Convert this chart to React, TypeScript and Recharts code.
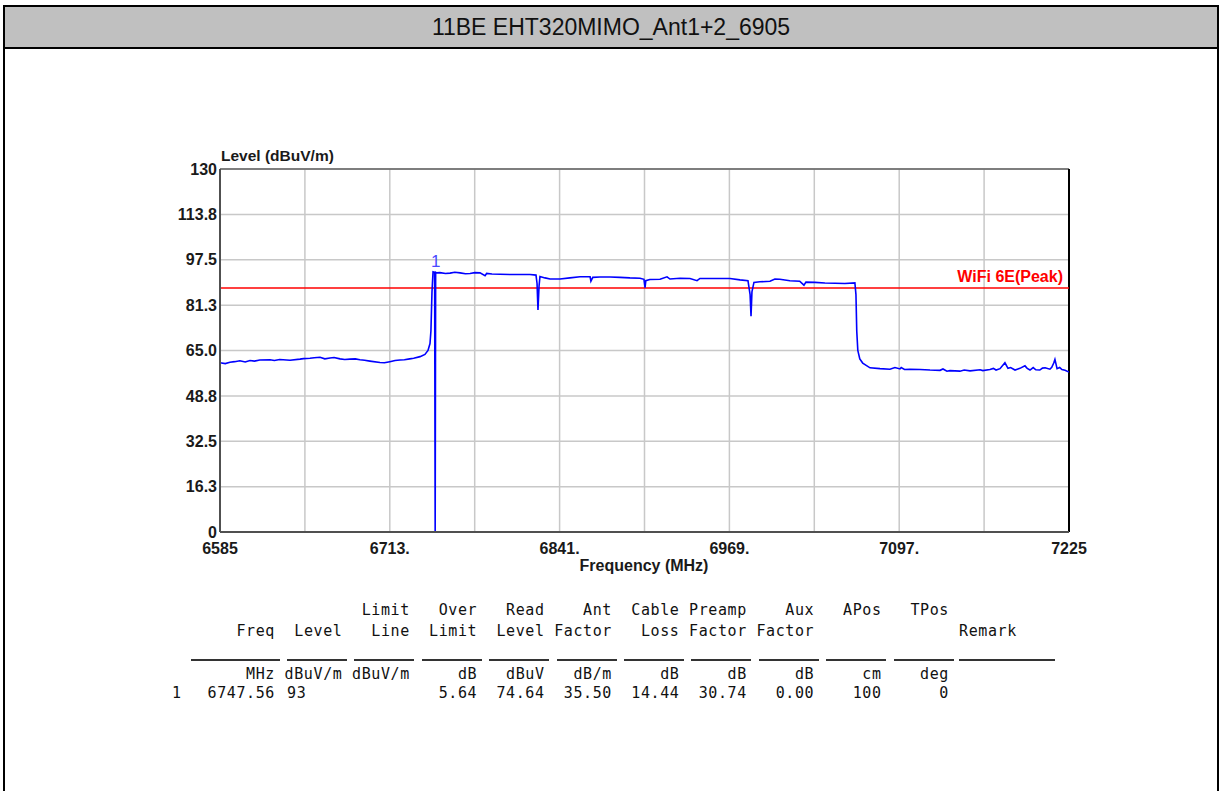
import {
  LineChart,
  Line,
  XAxis,
  YAxis,
  CartesianGrid,
  ReferenceLine,
  ReferenceDot,
} from "recharts";

// sweep trace
const freqMHz = [
  6585, 6589, 6592.5, 6596, 6600, 6604, 6607.6, 6611, 6615, 6622.7,
  6626, 6630, 6637.8, 6645.3, 6648, 6652.8, 6656, 6660.4, 6664, 6667.9,
  6671, 6675.5, 6679, 6683, 6687, 6690.5, 6694, 6698, 6705.6, 6709,
  6713, 6717, 6720.7, 6724, 6728, 6731, 6735.8, 6739.5, 6741.8, 6743.3,
  6744, 6744.8, 6745.6, 6746.8, 6747.2, 6747.56, 6748.5, 6750.8, 6755, 6758.4,
  6762, 6766, 6770, 6773.5, 6777, 6781, 6784.8, 6786, 6790, 6796,
  6803.6, 6811, 6818.7, 6823.2, 6824, 6824.7, 6825.5, 6826.2, 6830, 6833.8,
  6841.3, 6848.8, 6856.4, 6864, 6864.6, 6866, 6871.4, 6879, 6886.5, 6894,
  6901.6, 6904.6, 6905.4, 6906, 6909, 6916.7, 6922, 6924.2, 6931.8, 6939.3,
  6944.6, 6946.8, 6954.4, 6961.9, 6969.4, 6977, 6983, 6984.6, 6985.3, 6986,
  6987.5, 6992, 6999.6, 7003.3, 7007, 7014.6, 7022, 7025.2, 7026.7, 7033.5,
  7041, 7048.6, 7056, 7063.6, 7064.4, 7065, 7065.8, 7067.3, 7069.5, 7075,
  7082.5, 7090, 7093.8, 7097.6, 7098.5, 7101, 7105, 7112.7, 7120.2, 7127.8,
  7130, 7133, 7135.3, 7142.8, 7146, 7150.4, 7158, 7160, 7165.4, 7168,
  7170, 7173, 7176.7, 7179, 7181, 7184.3, 7186, 7188, 7191.8, 7193.5,
  7195.6, 7198, 7200, 7203, 7205, 7207, 7210.6, 7212, 7213.5, 7214.4,
  7216, 7218, 7219.7, 7222, 7225,
];

const levelDbuv = [
  60.6, 60.3, 60.8, 61.0, 61.3, 60.9, 61.4, 61.2, 61.6, 61.7,
  61.4, 61.8, 61.5, 61.9, 62.1, 62.2, 62.4, 62.6, 62.0, 62.3,
  62.5, 62.0, 61.8, 61.9, 62.0, 61.7, 61.5, 61.2, 60.7, 60.6,
  61.0, 61.4, 61.6, 61.7, 62.0, 62.2, 62.8, 63.6, 65.0, 67.5,
  72, 86, 93.2, 93.0, 0, 93.0, 92.8, 92.9, 92.6, 92.7,
  93.0, 92.8, 92.5, 92.6, 92.9, 92.8, 91.8, 92.6, 92.4, 92.3,
  92.2, 92.2, 92.2, 92.0, 89, 79.5, 88, 91.5, 91.0, 90.6,
  90.6, 91.0, 91.4, 91.4, 89.8, 91.2, 91.3, 91.3, 91.2, 91.0,
  90.9, 90.5, 87.5, 90.0, 90.4, 90.5, 91.4, 90.6, 90.9, 90.8,
  90.0, 90.8, 90.8, 90.8, 90.8, 90.3, 90.0, 85, 77.3, 86,
  89.4, 89.6, 89.8, 90.6, 90.5, 90.0, 89.8, 88.4, 89.5, 89.4,
  89.2, 89.1, 89.0, 89.2, 85, 72, 65, 62, 60.5, 58.8,
  58.5, 58.3, 58.9, 58.4, 58.9, 58.2, 58.3, 58.2, 58.0, 57.9,
  58.4, 57.6, 57.8, 57.6, 58.0, 57.7, 58.1, 57.8, 58.2, 58.6,
  58.0, 58.5, 60.6, 58.6, 58.9, 58.0, 58.3, 58.6, 59.5, 58.6,
  58.0, 58.9, 58.1, 58.0, 58.7, 58.8, 58.3, 59.0, 60.5, 61.8,
  58.5, 58.9, 58.2, 57.9, 57.3,
];

const xTicks = [6585, 6649, 6713, 6777, 6841, 6905, 6969, 7033, 7097, 7161, 7225];
const xTickLabels = ["6585", "", "6713.", "", "6841.", "", "6969.", "", "7097.", "", "7225"];
const yTicks = [0, 16.25, 32.5, 48.75, 65, 81.25, 97.5, 113.75, 130];
const yTickLabels = ["0", "16.3", "32.5", "48.8", "65.0", "81.3", "97.5", "113.8", "130"];

const limitLevel = 87.36;
const limitName = "WiFi 6E(Peak)";
const markerFreq = 6747.56;
const markerLevel = 93;

// marker table
const headRow1 = ["", "", "Limit", "Over", "Read", "Ant", "Cable", "Preamp", "Aux", "APos", "TPos"];
const headRow2 = ["Freq", "Level", "Line", "Limit", "Level", "Factor", "Loss", "Factor", "Factor", "", ""];
const unitRow = ["MHz", "dBuV/m", "dBuV/m", "dB", "dBuV", "dB/m", "dB", "dB", "dB", "cm", "deg"];
const valueRow = ["6747.56", "93", "", "5.64", "74.64", "35.50", "14.44", "30.74", "0.00", "100", "0"];

const data = freqMHz.map((f, i) => ({ f, l: levelDbuv[i] }));

const mono = "'DejaVu Sans Mono', monospace";
const colRight = (i: number) => 275 + i * 67.4;

function Cell({ text, right, left, y }: { text: string; right?: number; left?: number; y: number }) {
  const style: any = {
    position: "absolute",
    top: y - 9,
    lineHeight: "18px",
    fontFamily: mono,
    fontSize: 15,
    letterSpacing: 0.6,
    color: "#111",
    whiteSpace: "pre",
  };
  if (left !== undefined) style.left = left;
  else style.right = 1222 - (right as number);
  return <div style={style}>{text}</div>;
}

function TableRow({ cells, y }: { cells: string[]; y: number }) {
  return (
    <>
      {cells.map((t, i) =>
        t ? <Cell key={i} text={t} right={colRight(i)} y={y} /> : null
      )}
    </>
  );
}

export default function App() {
  return (
    <div
      style={{
        position: "fixed",
        left: 0,
        top: 0,
        width: 1222,
        height: 791,
        overflow: "hidden",
        background: "#fff",
        fontFamily: "'Liberation Sans', Arial, sans-serif",
      }}
    >
      {/* frame + title bar */}
      <div
        style={{
          position: "absolute",
          left: 3,
          top: 5,
          width: 1216,
          height: 820,
          border: "2px solid #000",
          boxSizing: "border-box",
        }}
      >
        <div
          style={{
            height: 40,
            background: "#c0c0c0",
            borderBottom: "2px solid #000",
            textAlign: "center",
            lineHeight: "40px",
            fontSize: 23,
            color: "#111",
          }}
        >
          11BE EHT320MIMO_Ant1+2_6905
        </div>
      </div>

      {/* chart */}
      <div style={{ position: "absolute", left: 0, top: 0 }}>
        <LineChart
          width={1222}
          height={600}
          data={data}
          margin={{ top: 169, right: 153, bottom: 38, left: 160 }}
        >
          <CartesianGrid stroke="#c8c8c8" strokeWidth={1.5} />
          <XAxis
            type="number"
            dataKey="f"
            domain={[6585, 7225]}
            ticks={xTicks}
            interval={0}
            allowDataOverflow
            height={30}
            tickLine={false}
            tickSize={0}
            tickMargin={11}
            tickFormatter={(v: number) => xTickLabels[xTicks.indexOf(v)]}
            axisLine={{ stroke: "#505050", strokeWidth: 2 }}
            tick={{ fill: "#1a1a1a", fontSize: 16, fontWeight: "bold" }}
          />
          <YAxis
            type="number"
            dataKey="l"
            domain={[0, 130]}
            ticks={yTicks}
            interval={0}
            allowDataOverflow
            width={60}
            tickLine={false}
            tickSize={0}
            tickMargin={3}
            tickFormatter={(v: number) => yTickLabels[yTicks.indexOf(v)]}
            axisLine={{ stroke: "#505050", strokeWidth: 2 }}
            tick={{ fill: "#1a1a1a", fontSize: 16, fontWeight: "bold" }}
          />
          <ReferenceLine y={130} stroke="#606060" strokeWidth={1.5} />
          <ReferenceLine x={7225} stroke="#000" strokeWidth={2} />
          <ReferenceLine
            y={limitLevel}
            stroke="#ff0000"
            strokeWidth={1.5}
            label={{
              value: limitName,
              position: "insideBottomRight",
              offset: 6,
              fill: "#ff0000",
              fontSize: 16,
              fontWeight: "bold",
            }}
          />
          <Line
            type="linear"
            dataKey="l"
            stroke="#0000ff"
            strokeWidth={1.6}
            dot={false}
            isAnimationActive={false}
          />
          <ReferenceDot
            x={markerFreq}
            y={markerLevel}
            r={0}
            fill="none"
            stroke="none"
            label={{ value: "1", position: "top", offset: 5, fill: "#4a4aff", fontSize: 17 }}
          />
        </LineChart>
      </div>

      {/* axis titles */}
      <div
        style={{
          position: "absolute",
          left: 221,
          top: 148,
          lineHeight: "16px",
          fontSize: 15.5,
          fontWeight: "bold",
          color: "#1a1a1a",
        }}
      >
        Level (dBuV/m)
      </div>
      <div
        style={{
          position: "absolute",
          left: 544,
          width: 200,
          top: 558,
          lineHeight: "16px",
          textAlign: "center",
          fontSize: 16,
          fontWeight: "bold",
          color: "#1a1a1a",
        }}
      >
        Frequency (MHz)
      </div>

      {/* marker table */}
      <TableRow cells={headRow1} y={610} />
      <TableRow cells={headRow2} y={631} />
      <Cell text="Remark" left={959} y={631} />
      <div style={{ position: "absolute", left: 191, top: 659, width: 89, height: 2, background: "#333" }} />
      {headRow2.map((_, i) => (
        <div
          key={i}
          style={{ position: "absolute", left: 287 + i * 67.4, top: 659, width: 60, height: 2, background: "#333" }}
        />
      ))}
      <div style={{ position: "absolute", left: 959, top: 659, width: 96, height: 2, background: "#333" }} />
      <TableRow cells={unitRow} y={674} />
      <Cell text="1" left={172} y={693} />
      {valueRow.map((t, i) =>
        !t ? null : i === 1 ? (
          <Cell key={i} text={t} left={287} y={693} />
        ) : (
          <Cell key={i} text={t} right={colRight(i)} y={693} />
        )
      )}
    </div>
  );
}
